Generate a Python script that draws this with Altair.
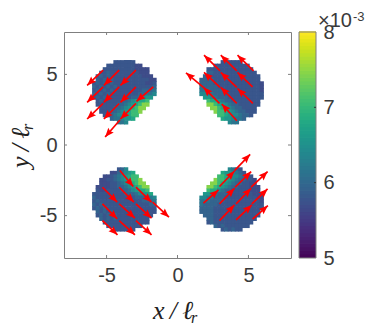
import altair as alt
import pandas as pd
import numpy as np

# ---- colour levels used in the cell maps (units of 1e-3)
LEVELS = {"0": 5.55, "1": 5.68, "2": 5.8, "3": 5.95, "4": 6.15, "5": 6.4,
          "6": 6.6, "7": 6.8, "8": 7.05, "9": 7.45}
CELL = 0.25

TL_ORIGIN = (-6.02, 6.01)
TL = [
    "......222222......",
    "....2222222211....",
    "...2222222221111..",
    "..22322222222111..",
    ".2323222222222111.",
    ".32323222222222211",
    "232323222222222112",
    "323232322222222223",
    "232323222222223334",
    "323232222222233445",
    "23232222222334566.",
    ".232222233456778..",
    ".222222334567899..",
    "..2222334567899...",
    "..222334567889....",
    "...2334556788.....",
    ".....3445667......",
    ".......445........",
]
TR_ORIGIN = (1.54, 6.01)
TR = [
    "......222222......",
    "....2222222222....",
    "..2222222222222...",
    "..33222222222222..",
    ".3322222222222222.",
    "33332222222222222.",
    "333322222222222221",
    "433332222222222221",
    "444333322222222221",
    "554433322222222222",
    ".66543332222222222",
    "..877543322222222.",
    "..998765433222222.",
    "...9987654332222..",
    "....988765433222..",
    ".....8876554332...",
    "......7665443.....",
    "........544.......",
]
BL_ORIGIN = (-6.02, -1.58)
BL = [
    ".......235........",
    ".....1134567......",
    "...1123456788.....",
    "..112234567889....",
    "..1112234567899...",
    ".111122334567899..",
    ".211222233456778..",
    "22222222233345667.",
    "322222222222333445",
    "232222222222223334",
    "323222222222222233",
    "232322222222222222",
    ".32323222222222222",
    ".2323232222222222.",
    "..32323222222222..",
    "...2222222222222..",
    "....2222222222....",
    "......222222......",
]
BR_ORIGIN = (1.54, -1.58)
BR = [
    "........5432......",
    "......7665432.....",
    ".....8876554322...",
    "....988765433221..",
    "...9987654332211..",
    "..998765433222111.",
    "..877543322222111.",
    ".66543332222222111",
    "554433322222222211",
    "444333322222222221",
    "433332222222222222",
    "333322222222222222",
    "33332222222222222.",
    ".3332222222222222.",
    "..33222222222222..",
    "..2322222222222...",
    "....3232222222....",
    "......232322......",
]

# ---- arrows: tail x, tail y, tip x, tip y
arrows_tl = [(-5.24,5.30,-6.37,4.22),(-4.11,5.30,-5.19,4.22),(-2.93,5.30,-4.02,4.22),
             (-5.24,4.12,-6.37,3.02),(-4.11,4.12,-5.19,3.02),(-2.93,4.12,-4.02,3.02),
             (-1.71,4.12,-2.89,3.09),(-5.24,2.94,-6.37,1.84),(-4.11,2.94,-5.19,1.84),
             (-2.93,2.94,-4.02,1.84),(-4.06,1.77,-5.10,0.57)]
arrows_tr = [(3.00,5.25,1.87,6.36),(4.18,5.25,3.05,6.36),(5.36,5.25,4.23,6.36),
             (1.83,4.08,0.60,5.11),(3.00,4.08,1.87,5.14),(4.18,4.08,3.05,5.14),
             (5.29,4.12,4.23,5.14),(2.96,2.94,1.83,4.08),(4.18,2.94,3.05,4.08),
             (5.31,2.94,4.23,4.00),(4.18,1.72,3.12,2.90)]
arrows_bl = [(-4.06,-1.81,-3.12,-2.94),(-2.93,-2.99,-1.83,-4.05),(-4.11,-2.99,-3.07,-4.05),
             (-5.29,-2.99,-4.25,-4.05),(-1.75,-4.05,-0.60,-5.11),(-2.93,-4.17,-1.83,-5.18),
             (-4.11,-4.17,-3.00,-5.18),(-5.29,-4.17,-4.25,-5.23),(-4.11,-5.35,-3.00,-6.36),
             (-2.93,-5.35,-1.83,-6.36),(-5.29,-5.35,-4.23,-6.36)]
arrows_br = [(4.02,-1.81,5.12,-0.66),(2.96,-2.94,4.02,-1.84),(4.06,-2.99,5.19,-1.88),
             (5.19,-2.99,6.35,-1.88),(1.83,-4.12,2.89,-3.18),(2.96,-4.17,4.02,-3.06),
             (4.13,-4.17,5.19,-3.06),(5.24,-4.17,6.35,-3.11),(2.96,-5.35,4.02,-4.24),
             (4.13,-5.30,5.24,-4.24),(5.29,-5.25,6.37,-4.29)]

x_ticks = [-5, 0, 5]
y_ticks = [-5, 0, 5]
cbar_ticks = [5, 6, 7, 8]
cbar_edges = np.linspace(5, 8, 65)

RED = "#ff0000"
GRAY = "#7f7f7f"
TEXT = "#3a3a3a"
W, H = 227, 226

cells = []
for origin, rows in [(TL_ORIGIN, TL), (TR_ORIGIN, TR), (BL_ORIGIN, BL), (BR_ORIGIN, BR)]:
    for j, row in enumerate(rows):
        for i, ch in enumerate(row):
            if ch in LEVELS:
                cells.append(dict(x0=origin[0] + i * CELL, x1=origin[0] + (i + 1.2) * CELL,
                                  y0=origin[1] - j * CELL, y1=origin[1] - (j + 1.2) * CELL,
                                  v=LEVELS[ch]))
cells = pd.DataFrame(cells)

arr = pd.DataFrame(arrows_tl + arrows_tr + arrows_bl + arrows_br, columns=["x0", "y0", "x1", "y1"])
arr["angle"] = (np.degrees(np.arctan2(arr.x1 - arr.x0, arr.y1 - arr.y0))) % 360

xs = alt.Scale(domain=[-8, 8], nice=False, zero=False)
ys = alt.Scale(domain=[-8, 8], nice=False, zero=False)
cs = alt.Scale(domain=[5, 8], scheme="viridis")
cby = alt.Scale(domain=[5, 8], nice=False, zero=False)

axis_font = dict(labelFont="Liberation Sans", labelFontSize=20, labelColor=TEXT,
                 tickSize=0, domain=False, grid=False, title=None,
                 labelExpr="'' + datum.value")

heat = alt.Chart(cells).mark_rect(strokeWidth=0).encode(
    x=alt.X("x0:Q", scale=xs, axis=alt.Axis(values=x_ticks, labelPadding=7, orient="bottom", **axis_font)),
    x2="x1:Q",
    y=alt.Y("y0:Q", scale=ys, axis=alt.Axis(values=y_ticks, labelPadding=7, orient="left", **axis_font)),
    y2="y1:Q",
    color=alt.Color("v:Q", scale=cs, legend=None),
)

shafts = alt.Chart(arr).mark_rule(color=RED, strokeWidth=1.7).encode(
    x=alt.X("x0:Q", scale=xs, axis=None), x2="x1:Q",
    y=alt.Y("y0:Q", scale=ys, axis=None), y2="y1:Q",
)
heads = alt.Chart(arr).mark_point(
    filled=True, color=RED, opacity=1, strokeWidth=0, size=324,
    shape="M0,0 L0.4,1 L0,0.85 L-0.4,1 Z",
).encode(
    x=alt.X("x1:Q", scale=xs, axis=None),
    y=alt.Y("y1:Q", scale=ys, axis=None),
    angle=alt.Angle("angle:Q", scale=None),
)

xt = pd.DataFrame({"t": x_ticks})
yt = pd.DataFrame({"t": y_ticks})
tick_b = alt.Chart(xt).mark_rule(color=GRAY, strokeWidth=1).encode(
    x=alt.X("t:Q", scale=xs, axis=None), y=alt.value(H), y2=alt.value(H - 3))
tick_t = alt.Chart(xt).mark_rule(color=GRAY, strokeWidth=1).encode(
    x=alt.X("t:Q", scale=xs, axis=None), y=alt.value(0), y2=alt.value(3))
tick_l = alt.Chart(yt).mark_rule(color=GRAY, strokeWidth=1).encode(
    y=alt.Y("t:Q", scale=ys, axis=None), x=alt.value(0), x2=alt.value(3))
tick_r = alt.Chart(yt).mark_rule(color=GRAY, strokeWidth=1).encode(
    y=alt.Y("t:Q", scale=ys, axis=None), x=alt.value(W), x2=alt.value(W - 3))

CB0, CB1 = 235, 252
cbar = pd.DataFrame({"lo": cbar_edges[:-1], "hi": cbar_edges[1:] + 0.01})
cbar["v"] = (cbar.lo + cbar.hi) / 2
cbar_rect = alt.Chart(cbar).mark_rect(strokeWidth=0).encode(
    x=alt.value(CB0), x2=alt.value(CB1),
    y=alt.Y("lo:Q", scale=cby, axis=alt.Axis(values=cbar_ticks, orient="right", offset=25,
                                             labelPadding=7, **axis_font)),
    y2="hi:Q",
    color=alt.Color("v:Q", scale=cs, legend=None),
)
cbar_frame = alt.Chart(pd.DataFrame({"lo": [5], "hi": [8]})).mark_rect(
    fillOpacity=0, stroke=GRAY, strokeWidth=1).encode(
    x=alt.value(CB0), x2=alt.value(CB1),
    y=alt.Y("lo:Q", scale=cby, axis=None), y2="hi:Q",
)
cbar_tk = alt.Chart(pd.DataFrame({"t": [6, 7]})).mark_rule(color="#333333", strokeWidth=1).encode(
    x=alt.value(CB1 - 2), x2=alt.value(CB1),
    y=alt.Y("t:Q", scale=cby, axis=None),
)


def label(txt, px, py, size, font="Liberation Sans", style="normal", angle=0, color=TEXT, align="left"):
    return alt.Chart(pd.DataFrame({"t": [txt]})).mark_text(
        font=font, fontSize=size, fontStyle=style, angle=angle, color=color,
        align=align, baseline="middle",
    ).encode(x=alt.value(px), y=alt.value(py), text="t:N")


SERIF = "Liberation Serif"
texts = [
    label("x\u2009/\u2009ℓ", 89, 279, 26, SERIF, "italic", color="#222222"),
    label("r", 127, 286, 16, SERIF, "italic", color="#222222"),
    label("y\u2009/\u2009ℓ", -43, 136, 26, SERIF, "italic", angle=270, color="#222222"),
    label("r", -36, 98, 16, SERIF, "italic", angle=270, color="#222222"),
    label("×10", 254, -11, 20),
    label("-3", 289, -15, 13),
]

chart = alt.layer(
    heat, shafts, heads, tick_b, tick_t, tick_l, tick_r,
    cbar_rect, cbar_frame, cbar_tk, *texts
).resolve_scale(x="independent", y="independent").properties(
    width=W, height=H,
    autosize=alt.AutoSizeParams(type="none"),
    padding={"left": 56, "top": 24, "right": 78, "bottom": 67},
    background="white",
).configure_view(stroke=GRAY, strokeWidth=1)

chart.save("out.html", embed_options={"renderer": "svg", "actions": False})
